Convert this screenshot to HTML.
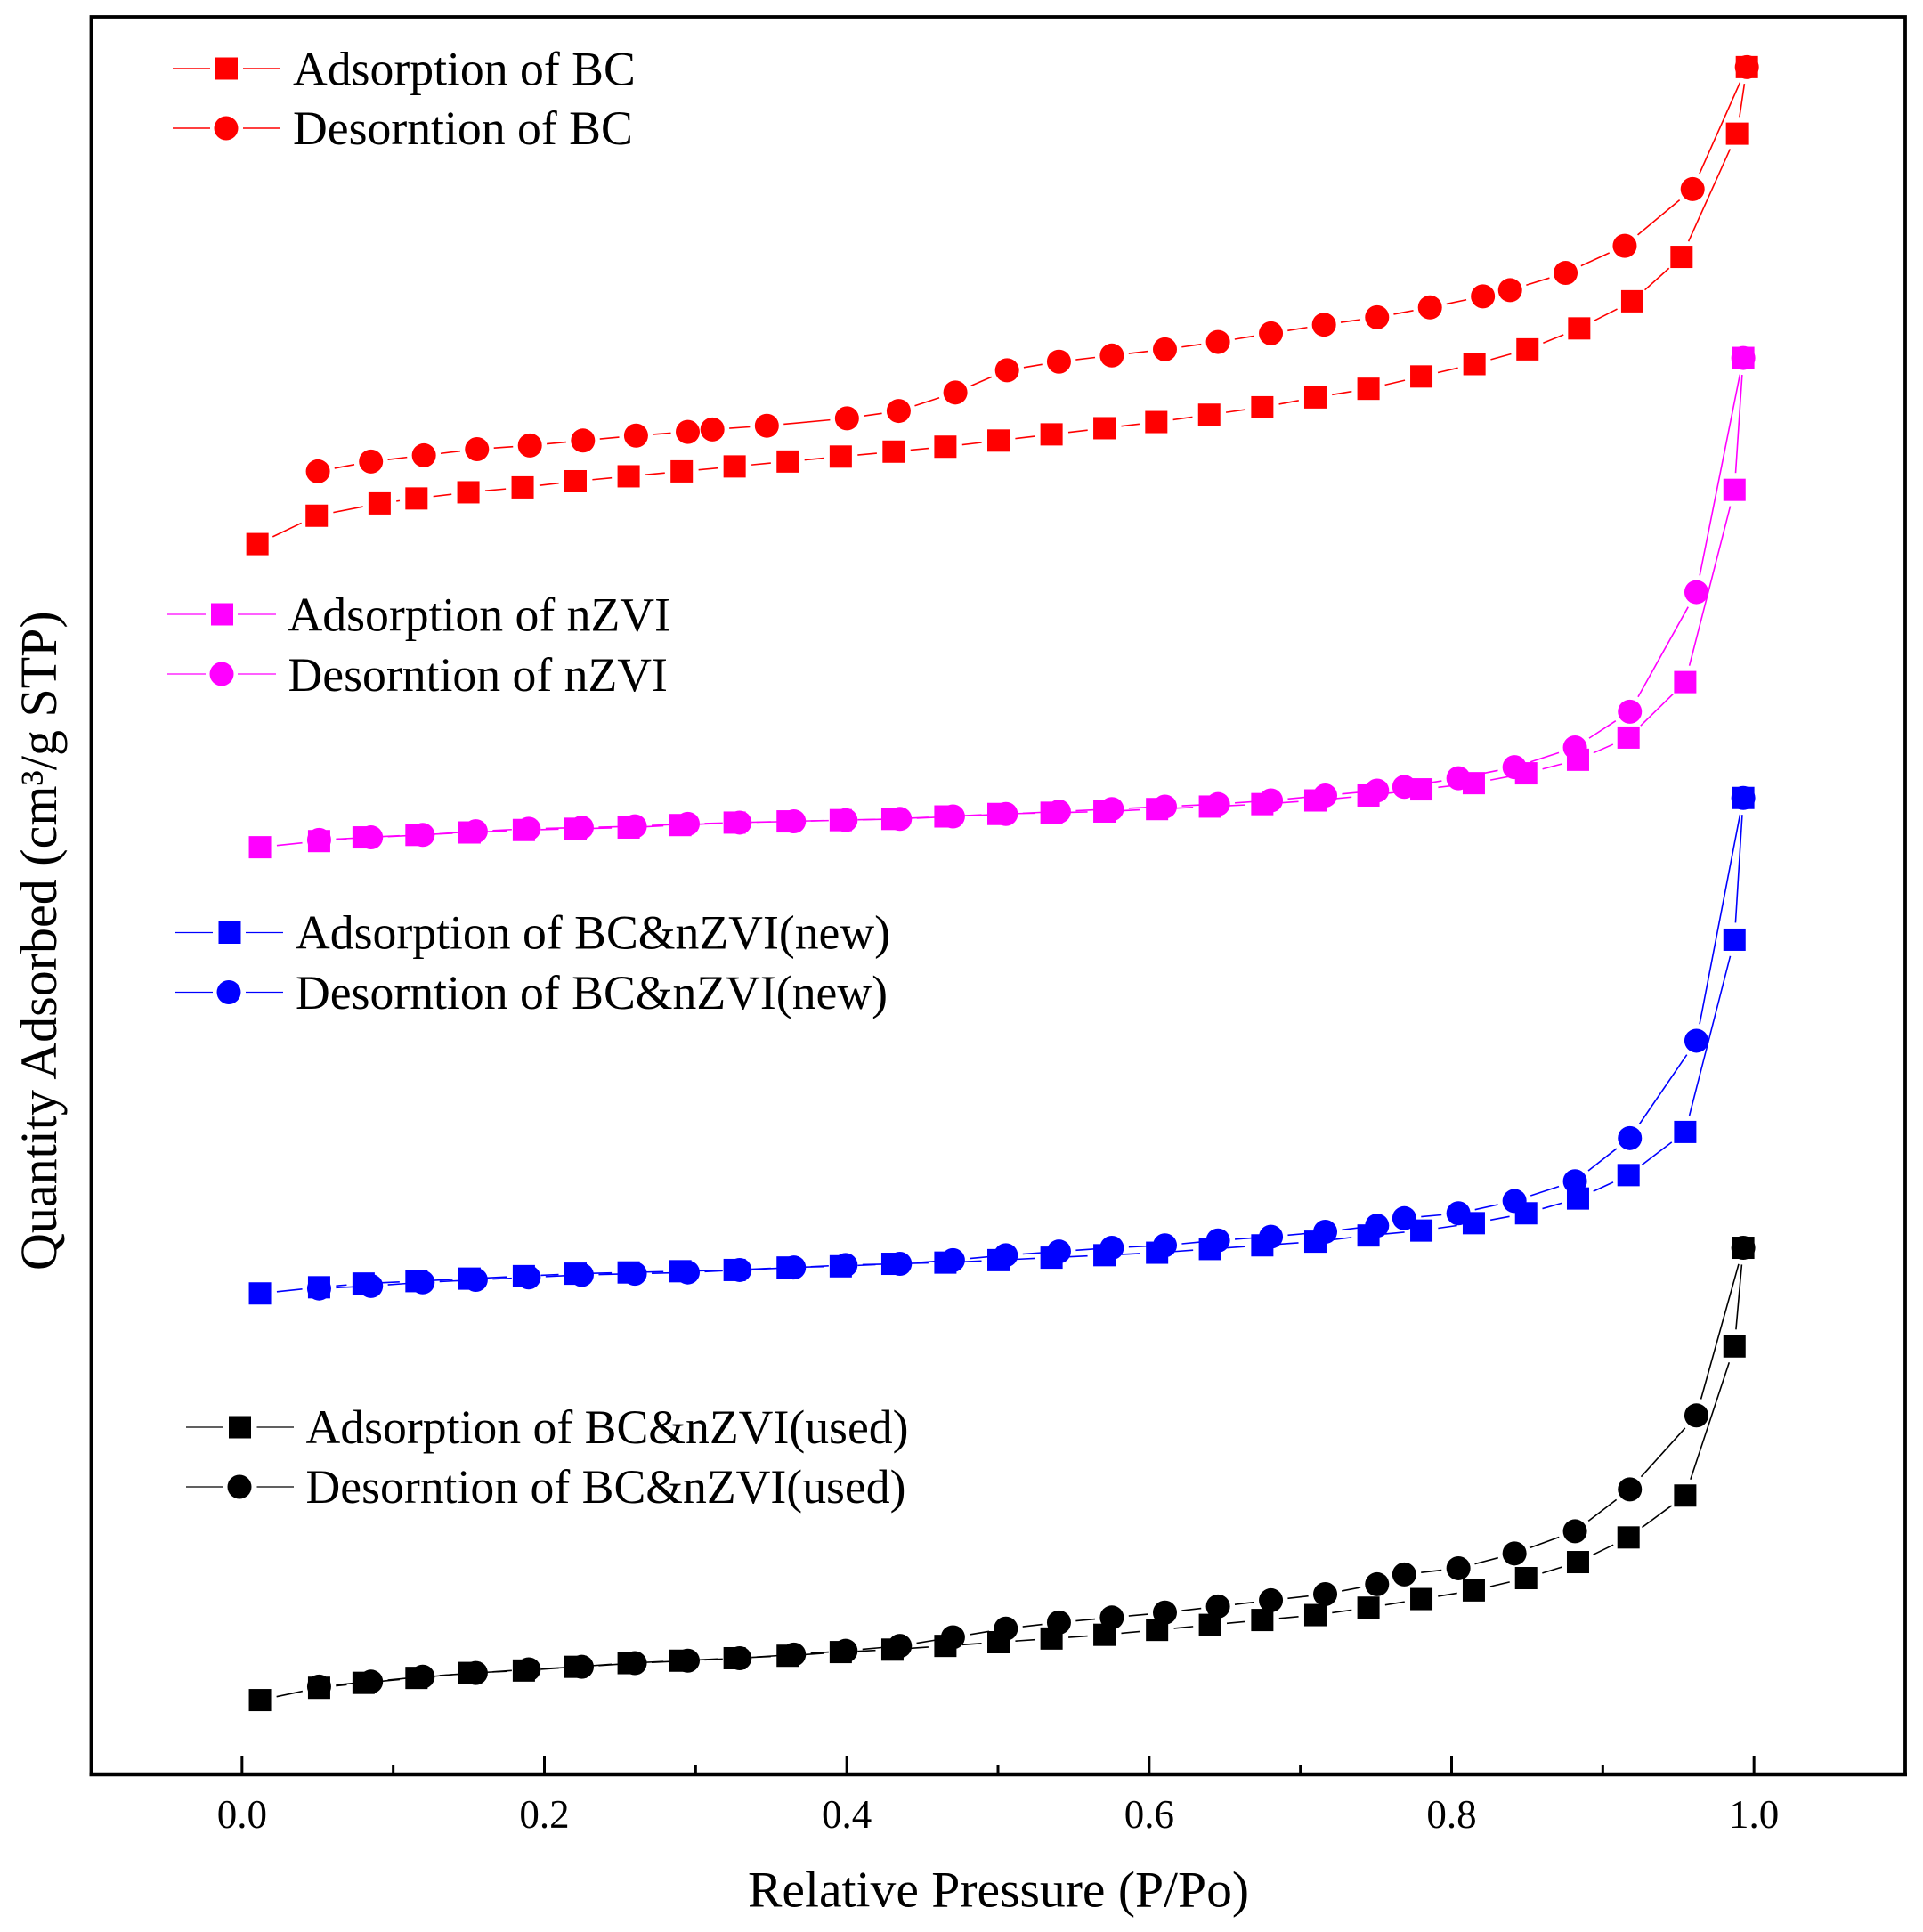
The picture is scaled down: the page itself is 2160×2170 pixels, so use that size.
<!DOCTYPE html>
<html lang="en">
<head>
<meta charset="utf-8">
<title>Adsorption isotherms</title>
<style>
html,body{margin:0;padding:0;background:#fff;}
svg{display:block;}
text{font-family:"Liberation Serif",serif;fill:#000;}
.leg{font-size:53.7px;}
</style>
</head>
<body>
<svg id="chart" xmlns="http://www.w3.org/2000/svg" width="2160" height="2170" viewBox="0 0 2160 2170">
  <rect x="0" y="0" width="2160" height="2170" fill="#fff"/>
  <g id="marks"></g>
  <rect x="102.5" y="19" width="2037.5" height="1974" fill="none" stroke="#000" stroke-width="3.8"/>
  <line x1="100.500" y1="1993" x2="2142" y2="1993" stroke="#000" stroke-width="4.5"/>
  <g id="ticks"></g>
  <text x="840" y="2141.500" font-size="57.6">Relative Pressure (P/Po)</text>
  <text transform="translate(63 1427) rotate(-90)" font-size="58">Quantity Adsorbed (cm³/g STP)</text>

  <g>
    <g>
      <path d="M194 77H236M273 77H315" stroke="#f00" stroke-width="1.5" fill="none"/>
      <rect x="242" y="64.5" width="25" height="25" fill="#f00"/>
      <text class="leg" x="329" y="95.5">Adsorption of BC</text>
    </g>
    <g>
      <path d="M194 144H236M273 144H315" stroke="#f00" stroke-width="1.5" fill="none"/>
      <circle cx="254" cy="144" r="13.5" fill="#f00"/>
      <text class="leg" x="329" y="162">Desorntion of BC</text>
    </g>
  </g>
  <g>
    <g>
      <path d="M188 690H231M267 690H310" stroke="#f0f" stroke-width="1.3" fill="none"/>
      <rect x="237" y="677.5" width="25" height="25" fill="#f0f"/>
      <text class="leg" x="323.500" y="708.500">Adsorption of nZVI</text>
    </g>
    <g>
      <path d="M188 757H231M267 757H310" stroke="#f0f" stroke-width="1.3" fill="none"/>
      <circle cx="249" cy="757" r="13.5" fill="#f0f"/>
      <text class="leg" x="323.500" y="776">Desorntion of nZVI</text>
    </g>
  </g>
  <g>
    <g>
      <path d="M197 1047.5H239M276 1047.5H318" stroke="#00f" stroke-width="1.3" fill="none"/>
      <rect x="245.500" y="1035" width="25" height="25" fill="#00f"/>
      <text class="leg" x="332" y="1065.500">Adsorption of BC&amp;nZVI(new)</text>
    </g>
    <g>
      <path d="M197 1114.500H239M276 1114.500H318" stroke="#00f" stroke-width="1.3" fill="none"/>
      <circle cx="257" cy="1114.500" r="13.500" fill="#00f"/>
      <text class="leg" x="332" y="1133">Desorntion of BC&amp;nZVI(new)</text>
    </g>
  </g>
  <g>
    <g>
      <path d="M209 1603H250.500M288.500 1603H330" stroke="#000" stroke-width="1.3" fill="none"/>
      <rect x="257" y="1590.500" width="25" height="25" fill="#000"/>
      <text class="leg" x="343.500" y="1621">Adsorption of BC&amp;nZVI(used)</text>
    </g>
    <g>
      <path d="M209 1670H250.500M288.500 1670H330" stroke="#000" stroke-width="1.3" fill="none"/>
      <circle cx="269" cy="1670" r="13.500" fill="#000"/>
      <text class="leg" x="343.500" y="1688">Desorntion of BC&amp;nZVI(used)</text>
    </g>
  </g>
</svg>
<script>
// ---- chart data ----
const majorTicks = [0, 0.2, 0.4, 0.6, 0.8, 1.0];
const majorTickLabels = ["0.0", "0.2", "0.4", "0.6", "0.8", "1.0"];
const minorTicks = [0.1, 0.3, 0.5, 0.7, 0.9];

const bcAdsX = [.0102,.0494,.0910,.1154,.1497,.1856,.2206,.2557,.2908,.3258,.3609,.3960,.4310,.4652,.5003,.5354,.5704,.6047,.6397,.6748,.7099,.7450,.7800,.8151,.8502,.8844,.9195,.9521,.9888,.9953];
const bcAdsY = [999,1022,1032,1036,1041,1045,1050,1054,1058,1062,1066,1070,1074,1078,1083,1088,1093,1098,1104,1110,1118,1125,1135,1145,1157,1174,1196,1232,1332,1386];
const bcDesX = [.0502,.0853,.1203,.1554,.1904,.2255,.2606,.2948,.3111,.3471,.4001,.4343,.4718,.5060,.5403,.5753,.6104,.6455,.6805,.7156,.7507,.7857,.8207,.8387,.8754,.9145,.9594,.9953];
const bcDesY = [1058,1066,1071,1076,1079,1083,1087,1090,1092,1095,1101,1107,1122,1140,1147,1152,1157,1163,1170,1177,1183,1191,1200,1205,1219,1241,1287,1386];

const compositeAdsX = [.0119,.0510,.0804,.1154,.1505,.1864,.2206,.2557,.2899,.3258,.3609,.3960,.4302,.4652,.5003,.5354,.5704,.6052,.6402,.6748,.7099,.7450,.7800,.8147,.8493,.8836,.9170,.9545,.9871,.9929];
const compositeDesX = [.0510,.0853,.1195,.1546,.1896,.2247,.2598,.2948,.3291,.3650,.3992,.4351,.4702,.5052,.5403,.5753,.6104,.6455,.6805,.7164,.7507,.7687,.8045,.8416,.8816,.9179,.9619,.9929];

const nzviAdsY = [753,758,761,763,765,767,768,769,771,773,774,775,776,778,780,781,782,784,786,788,791,795,800,805,813,824,842,887,1043,1150];
const nzviDesY = [759,761,763,766,768,769,770,772,773,774,775,776,778,780,782,784,786,788,791,795,799,802,809,818,834,863,960,1150];
const newAdsY = [391,396,399,401,403,405,407,408,409,410,412,413,415,416,418,420,422,424,427,430,433,438,442,448,456,468,487,522,678,793];
const newDesY = [395,397,400,402,404,406,407,408,410,412,414,415,418,422,425,428,430,434,437,441,446,452,456,466,482,517,596,793];
const usedAdsY = [61,71,75,79,83,85,88,91,93,95,97,100,102,105,108,111,114,118,122,126,130,136,143,150,160,173,193,227,348,428];
const usedDesY = [72,76,80,83,86,88,91,93,95,98,101,105,112,119,124,128,132,137,142,147,155,163,168,180,198,232,292,428];

// ---- axis functions ----
const xDomain = [-0.1, 1.1];
const yDomain = [0, 1426];
function xScale(v) { return 102 + (v - xDomain[0]) / (xDomain[1] - xDomain[0]) * 2038; }
function yScale(v) { return 1994 - (v - yDomain[0]) / (yDomain[1] - yDomain[0]) * 1974; }

const NS = "http://www.w3.org/2000/svg";
const marksLayer = document.getElementById("marks");
const ticksLayer = document.getElementById("ticks");
const LINE_GAP = 19;
const SQUARE = 25;
const RADIUS = 13.5;

function drawSeries(name, xs, ys, color, shape) {
  const group = document.createElementNS(NS, "g");
  
  
  for (let i = 0; i < xs.length - 1; i++) {
    const x1 = xScale(xs[i]), y1 = yScale(ys[i]);
    const x2 = xScale(xs[i + 1]), y2 = yScale(ys[i + 1]);
    const len = Math.hypot(x2 - x1, y2 - y1);
    if (len <= LINE_GAP * 2) continue;
    const ux = (x2 - x1) / len, uy = (y2 - y1) / len;
    const seg = document.createElementNS(NS, "line");
    
    
    seg.setAttribute("x1", x1 + ux * LINE_GAP);
    seg.setAttribute("y1", y1 + uy * LINE_GAP);
    seg.setAttribute("x2", x2 - ux * LINE_GAP);
    seg.setAttribute("y2", y2 - uy * LINE_GAP);
    seg.setAttribute("stroke", color);
    seg.setAttribute("stroke-width", "1.6");
    group.appendChild(seg);
  }
  for (let i = 0; i < xs.length; i++) {
    const cx = xScale(xs[i]), cy = yScale(ys[i]);
    let mark;
    if (shape === "square") {
      mark = document.createElementNS(NS, "rect");
      mark.setAttribute("x", cx - SQUARE / 2);
      mark.setAttribute("y", cy - SQUARE / 2);
      mark.setAttribute("width", SQUARE);
      mark.setAttribute("height", SQUARE);
    } else {
      mark = document.createElementNS(NS, "circle");
      mark.setAttribute("cx", cx);
      mark.setAttribute("cy", cy);
      mark.setAttribute("r", RADIUS);
    }
    
    
    mark.setAttribute("fill", color);
    group.appendChild(mark);
  }
  marksLayer.appendChild(group);
}

drawSeries("desorption-bc", bcDesX, bcDesY, "#f00", "circle");
drawSeries("adsorption-bc", bcAdsX, bcAdsY, "#f00", "square");
drawSeries("desorption-nzvi", compositeDesX, nzviDesY, "#f0f", "circle");
drawSeries("adsorption-nzvi", compositeAdsX, nzviAdsY, "#f0f", "square");
drawSeries("desorption-new", compositeDesX, newDesY, "#00f", "circle");
drawSeries("adsorption-new", compositeAdsX, newAdsY, "#00f", "square");
drawSeries("desorption-used", compositeDesX, usedDesY, "#000", "circle");
drawSeries("adsorption-used", compositeAdsX, usedAdsY, "#000", "square");

function drawTick(v, length, name) {
  const t = document.createElementNS(NS, "line");
  
  
  t.setAttribute("x1", xScale(v));
  t.setAttribute("x2", xScale(v));
  t.setAttribute("y1", 1993);
  t.setAttribute("y2", 1993 - length);
  t.setAttribute("stroke", "#000");
  t.setAttribute("stroke-width", "3");
  ticksLayer.appendChild(t);
}
majorTicks.forEach(function (v, i) {
  drawTick(v, 21, 'x-major-tick');
  const label = document.createElementNS(NS, "text");
  
  
  label.setAttribute("x", xScale(v));
  label.setAttribute("y", 2053);
  label.setAttribute("font-size", "45");
  label.setAttribute("text-anchor", "middle");
  label.textContent = majorTickLabels[i];
  ticksLayer.appendChild(label);
});
minorTicks.forEach(function (v) {
  drawTick(v, 11, 'x-minor-tick');
});
</script>
</body>
</html>
